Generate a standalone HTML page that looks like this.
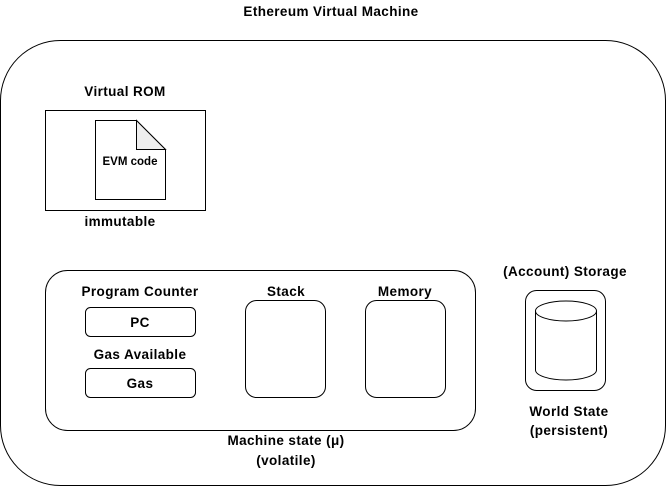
<!DOCTYPE html>
<html><head><meta charset="utf-8"><style>html,body{margin:0;padding:0;background:#fff}svg{display:block}</style></head>
<body>
<svg width="672" height="492" viewBox="0 0 672 492" xmlns="http://www.w3.org/2000/svg" font-family="Liberation Sans, Arial, sans-serif" font-weight="bold" font-size="13.5" letter-spacing="0.4" fill="none" stroke="#000" stroke-width="1">
<rect x="0.5" y="40.5" width="665" height="445" rx="60" ry="60" fill="#fff"/>
<rect x="45.5" y="110.5" width="160" height="100" fill="#fff"/>
<path d="M95.5 120.5 H136.5 L165.5 149.5 V199.5 H95.5 Z" fill="#fff"/>
<path d="M136.5 120.5 V149.5 H165.5 Z" fill="#eee"/>
<rect x="45.5" y="270.5" width="430" height="160" rx="22" ry="22" fill="#fff"/>
<rect x="85.5" y="307.5" width="110" height="29" rx="5" fill="#fff"/>
<rect x="85.5" y="368.5" width="110" height="29" rx="5" fill="#fff"/>
<rect x="245.5" y="300.5" width="80" height="97" rx="11" fill="#fff"/>
<rect x="365.5" y="300.5" width="80" height="97" rx="11" fill="#fff"/>
<rect x="525.5" y="290.5" width="80" height="100" rx="11" fill="#fff"/>
<path d="M535.5 311 V370 A30.5 10 0 0 0 596.5 370 V311" fill="#fff"/>
<ellipse cx="566" cy="311" rx="30.5" ry="10" fill="#fff"/>
<g fill="#000" stroke="none" text-anchor="middle">
<text x="331" y="16">Ethereum Virtual Machine</text>
<text x="125" y="96">Virtual ROM</text>
<text x="130" y="165" font-size="11.5" letter-spacing="0">EVM code</text>
<text x="120" y="226">immutable</text>
<text x="140" y="296">Program Counter</text>
<text x="140" y="327">PC</text>
<text x="140" y="359">Gas Available</text>
<text x="140" y="388">Gas</text>
<text x="286" y="296">Stack</text>
<text x="405" y="296">Memory</text>
<text x="565" y="276">(Account) Storage</text>
<text x="569" y="416">World State</text>
<text x="569" y="435">(persistent)</text>
<text x="286" y="445">Machine state (μ)</text>
<text x="286" y="465">(volatile)</text>
</g>
</svg>
</body></html>
